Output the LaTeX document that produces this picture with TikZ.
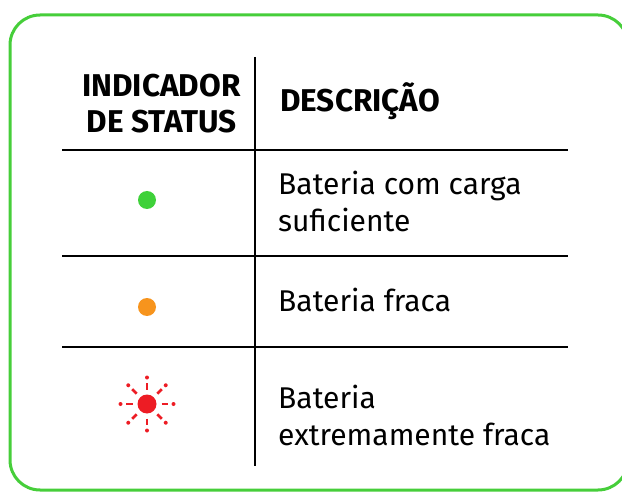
\documentclass[tikz,border=0pt]{standalone}
\usepackage{fontspec}
\setmainfont{Fira Sans}
\definecolor{bordergreen}{HTML}{46CE3A}
\definecolor{dotgreen}{HTML}{3FD13A}
\definecolor{dotorange}{HTML}{F7941D}
\definecolor{dotred}{HTML}{ED1C24}
\begin{document}
\begin{tikzpicture}[x=1pt,y=-1pt,
  rule/.style={line width=1.6pt,black},
  head/.style={font=\fontsize{31.5}{37}\selectfont\bfseries,inner sep=0pt},
  body/.style={font=\fontsize{30}{37}\selectfont,inner sep=0pt,anchor=base west},
  ray/.style={dotred,line width=2.8pt},
  tip/.style={fill=dotred,circle,inner sep=0pt,minimum size=4pt}]
\useasboundingbox (0,0) rectangle (622,492);
\draw[bordergreen,line width=3pt,rounded corners=30pt] (10,15) rectangle (628,490);
% grid
\coordinate (vt) at (255,57);
\coordinate (vb) at (255,466);
\draw[rule] (vt) -- (vb);
\coordinate (h1l) at (62,150); \coordinate (h1r) at (568,150);
\coordinate (h2l) at (62,256); \coordinate (h2r) at (568,256);
\coordinate (h3l) at (62,347); \coordinate (h3r) at (568,347);
\draw[rule] (h1l) -- (h1r);
\draw[rule] (h2l) -- (h2r);
\draw[rule] (h3l) -- (h3r);
% header
\node[head,anchor=base] (hind1) at (161.5,97) {INDICADOR};
\node[head,anchor=base] (hind2) at (161.5,133) {DE STATUS};
\node[head,anchor=base west] (hdesc) at (280,112) {DESCRIÇÃO};
% rows
\node[body] (d1a) at (278,195) {Bateria com carga};
\node[body] (d1b) at (278,232) {suficiente};
\node[body] (d2) at (278,311) {Bateria fraca};
\node[body] (d3a) at (278,408) {Bateria};
\node[body] (d3b) at (278,445) {extremamente fraca};
% indicators
\node[circle,fill=dotgreen,inner sep=0pt,minimum size=18pt] (g) at (147,200) {};
\node[circle,fill=dotorange,inner sep=0pt,minimum size=18pt] (o) at (147,307) {};
\node[circle,fill=dotred,inner sep=0pt,minimum size=19pt] (r) at (147,404) {};
\foreach \a in {0,45,...,315}{
  \draw[ray] ([shift={(\a:14.5)}]r.center) -- ([shift={(\a:21)}]r.center);
  \node[tip] at ([shift={(\a:26.5)}]r.center) {};
}
\end{tikzpicture}
\end{document}
